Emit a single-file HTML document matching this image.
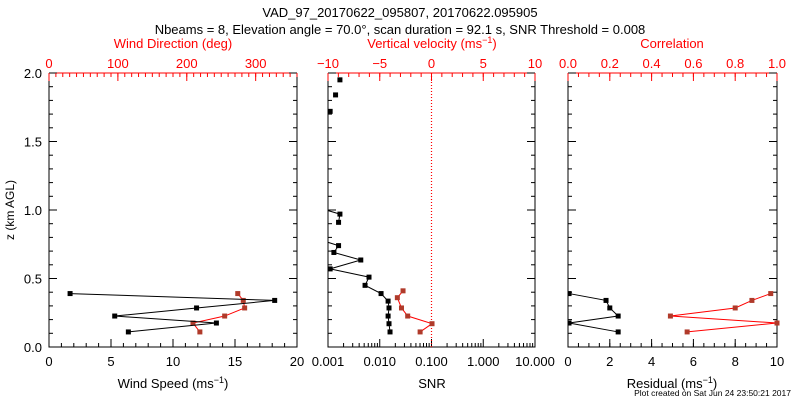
<!DOCTYPE html>
<html><head><meta charset="utf-8"><style>
body{margin:0;background:#fff}
svg{display:block;font-family:"Liberation Sans",sans-serif}
</style></head><body>
<svg id="c" width="800" height="400" viewBox="0 0 800 400">
<text x="400" y="17" text-anchor="middle" font-size="13">VAD_97_20170622_095807, 20170622.095905</text>
<text x="400" y="34" text-anchor="middle" font-size="13">Nbeams = 8, Elevation angle = 70.0°, scan duration = 92.1 s, SNR Threshold = 0.008</text>
<text x="791" y="396" text-anchor="end" font-size="8.5">Plot created on Sat Jun 24 23:50:21 2017</text>
<g id="g"></g>
</svg>
<script>
const heights=[0.11,0.175,0.226,0.285,0.34,0.39];
const windSpeed=[6.4,13.5,5.3,11.9,18.2,1.7];
const windDir=[219,209,255,284,282,274];
const snrHeights=[0.11,0.17,0.226,0.285,0.335,0.39,0.45,0.51,0.57,0.635,0.69,0.74,0.80,null,0.91,0.97,1.03,null,1.72,null,1.84,null,1.95];
const snrValues=[0.0158,0.0151,0.0145,0.0151,0.0145,0.0106,0.0052,0.0062,0.0011,0.0043,0.0013,0.0016,0.0005,null,0.0016,0.0017,0.0005,null,0.0011,null,0.0014,null,0.0017];
const wHeights=[0.11,0.17,0.226,0.285,0.36,0.41];
const wValues=[-1.1,0.05,-2.3,-2.9,-3.3,-2.75];
const residual=[2.4,0.05,2.4,2.0,1.82,0.05];
const correlation=[0.57,1.0,0.49,0.80,0.88,0.97];
const yTicks=["0.0","0.5","1.0","1.5","2.0"];

const NS="http://www.w3.org/2000/svg";
const g=document.getElementById('g');
function el(t,a,p){const e=document.createElementNS(NS,t);for(const k in a)e.setAttribute(k,a[k]);(p||g).appendChild(e);return e;}
const Y0=347,Y1=73;
const y=z=>Y0-(z/2)*(Y0-Y1);
function lin(d0,d1,r0,r1){return v=>r0+(v-d0)/(d1-d0)*(r1-r0);}
function logs(d0,d1,r0,r1){return v=>r0+(Math.log10(v)-Math.log10(d0))/(Math.log10(d1)-Math.log10(d0))*(r1-r0);}
const P=[{x0:49,x1:297},{x0:328,x1:535},{x0:568,x1:777}];
P.forEach((p,i)=>{
 const f=el('path',{d:`M${p.x0} ${Y1}V${Y0}H${p.x1}V${Y1}`,fill:'none',stroke:'#000','stroke-width':1});
 
 
 const t=el('line',{x1:p.x0,x2:p.x1,y1:Y1,y2:Y1,stroke:'#f00'});
 
 
 for(let k=0;k<=20;k++){const yy=y(k*0.1),L=(k%5==0)?8:4;
 el('line',{x1:p.x0,x2:p.x0+L,y1:yy,y2:yy,stroke:'#000'});el('line',{x1:p.x1,x2:p.x1-L,y1:yy,y2:yy,stroke:'#000'});}
});
yTicks.forEach(t=>{const tx=el('text',{x:42,y:y(+t)+5,'text-anchor':'end','font-size':13});tx.textContent=t;

});
const yl=el('text',{x:14,y:210,'text-anchor':'middle','font-size':12,transform:'rotate(-90 14 210)'});yl.textContent='z (km AGL)';


function ticksX(sc,vals,minor,yb,up,color,labels){
 minor.forEach(v=>{const xx=sc(v);el('line',{x1:xx,x2:xx,y1:yb,y2:yb+(up?-4:4),stroke:color});});
 vals.forEach((v,i)=>{const xx=sc(v);el('line',{x1:xx,x2:xx,y1:yb,y2:yb+(up?-8:8),stroke:color});
 const t=el('text',{x:xx,y:up?yb+19:yb-5,'text-anchor':'middle','font-size':13,fill:color});t.textContent=labels[i];
 
 });}
function title(x,yy,txt,color,name){const t=el('text',{x:x,y:yy,'text-anchor':'middle','font-size':13,fill:color});t.innerHTML=txt;

}
function series(pts,line,mark,name){let d='',pen=false;pts.forEach(p=>{if(!p){pen=false;return;}d+=(pen?'L':'M')+p[0]+' '+p[1];pen=true;});
const pa=el('path',{d:d,fill:'none',stroke:line,'stroke-width':1,'clip-path':'url(#cl'+name[0]+')'});


pts.forEach(p=>{if(!p)return;const r=el('rect',{x:p[0]-2.5,y:p[1]-2.5,width:5,height:5,fill:mark,'clip-path':'url(#cl'+name[0]+')'});

});}
const defs=el('defs',{});
P.forEach((p,i)=>{const c=el('clipPath',{id:'cl'+'abc'[i]},defs);el('rect',{x:p.x0,y:Y1-5,width:p.x1-p.x0+3,height:Y0-Y1+10},c);});
// Panel 1
const ws=lin(0,20,49,297),wd=lin(0,360,49,297);
ticksX(ws,[0,5,10,15,20],[...Array(21).keys()],Y0,true,'#000',['0','5','10','15','20']);
ticksX(wd,[0,100,200,300],[...Array(37).keys()].map(k=>k*10),Y1,false,'#f00',['0','100','200','300']);
title(173,388,'Wind Speed (ms<tspan font-size="9" dy="-5">−1</tspan><tspan dy="5">)</tspan>','#000','wind-speed-axis-title');
title(173,48,'Wind Direction (deg)','#f00','wind-direction-axis-title');
series(heights.map((h,i)=>[wd(windDir[i]),y(h)]),'#f00','#b03a2a','a-wind-direction');
series(heights.map((h,i)=>[ws(windSpeed[i]),y(h)]),'#000','#000','a-wind-speed');
// Panel 2
const sn=logs(0.001,10,328,535),vv=lin(-10,10,328,535);
const mn=[];for(let e=-3;e<1;e++)for(let k=2;k<10;k++)mn.push(k*Math.pow(10,e));
ticksX(sn,[0.001,0.01,0.1,1,10],mn,Y0,true,'#000',['0.001','0.010','0.100','1.000','10.000']);
ticksX(vv,[-10,-5,0,5,10],[...Array(21).keys()].map(k=>k-10),Y1,false,'#f00',['−10','−5','0','5','10']);
title(432,388,'SNR','#000','snr-axis-title');
title(432,48,'Vertical velocity (ms<tspan font-size="9" dy="-5">−1</tspan><tspan dy="5">)</tspan>','#f00','vertical-velocity-axis-title');
const zl=el('line',{x1:vv(0),x2:vv(0),y1:Y1,y2:Y0,stroke:'#ff0000','stroke-width':1.2,'stroke-dasharray':'1,2'});


series(snrHeights.map((h,i)=>h==null?null:[sn(snrValues[i]),y(h)]),'#000','#000','b-snr');
series(wHeights.map((h,i)=>[vv(wValues[i]),y(h)]),'#f00','#b03a2a','b-vertical-velocity');
// Panel 3
const rs=lin(0,10,568,777),co=lin(0,1,568,777);
ticksX(rs,[0,2,4,6,8,10],[...Array(21).keys()].map(k=>k*0.5),Y0,true,'#000',['0','2','4','6','8','10']);
ticksX(co,[0,0.2,0.4,0.6,0.8,1],[...Array(21).keys()].map(k=>k*0.05),Y1,false,'#f00',['0.0','0.2','0.4','0.6','0.8','1.0']);
title(672,388,'Residual (ms<tspan font-size="9" dy="-5">−1</tspan><tspan dy="5">)</tspan>','#000','residual-axis-title');
title(672,48,'Correlation','#f00','correlation-axis-title');
series(heights.map((h,i)=>[co(correlation[i]),y(h)]),'#f00','#b03a2a','c-correlation');
series(heights.map((h,i)=>[rs(residual[i]),y(h)]),'#000','#000','c-residual');
</script>
</body></html>
